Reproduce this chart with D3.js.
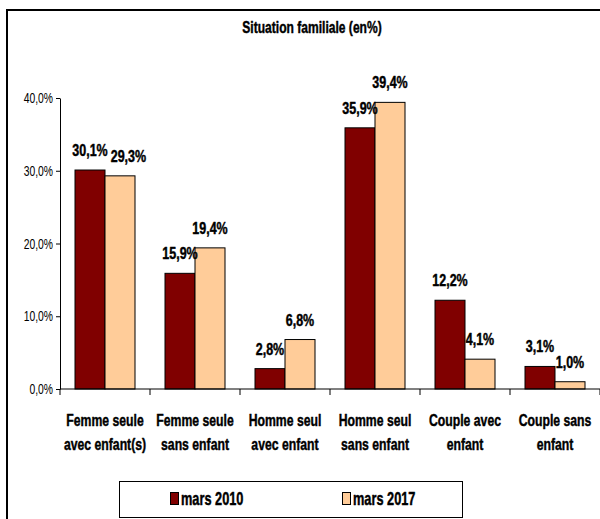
<!DOCTYPE html>
<html>
<head>
<meta charset="utf-8">
<script src="https://cdn.jsdelivr.net/npm/d3@7"></script>
<style>
  html, body { margin: 0; padding: 0; background: #fff; }
  svg { display: block; }
  text { font-family: "Liberation Sans", Arial, sans-serif; fill: #000; }
</style>
</head>
<body>
<div id="chart"></div>
<script>
// Family situation, share of households (%)
const categories = [
  "Femme seule\navec enfant(s)",
  "Femme seule\nsans enfant",
  "Homme seul\navec enfant",
  "Homme seul\nsans enfant",
  "Couple avec\nenfant",
  "Couple sans\nenfant"
];
const seriesNames = ["mars 2010", "mars 2017"];
const values2010 = [30.1, 15.9, 2.8, 35.9, 12.2, 3.1];
const values2017 = [29.3, 19.4, 6.8, 39.4, 4.1, 1.0];
const yTicks = [0, 10, 20, 30, 40];
const colors = ["#800000", "#FFCC99"];
const title = "Situation familiale (en%)";

const W = 600, H = 519;
const fmt = v => v.toFixed(1).replace(".", ",") + "%";

const svg = d3.select("#chart").append("svg")
  .attr("width", W).attr("height", H);

svg.append("rect").attr("width", W).attr("height", H).attr("fill", "#fff");

// chart frame (runs off the right and bottom edges)
svg.append("rect")
  .attr("x", 7).attr("y", 10).attr("width", 700).attr("height", 600)
  .attr("fill", "none").attr("stroke", "#000").attr("stroke-width", 2);

// condensed text helper: Arial-metric font squeezed horizontally
function ntext(sel, x, y, str, size, sx, weight, anchor) {
  const t = sel.append("text")
    .attr("transform", `translate(${x},${y}) scale(${sx},1)`)
    .attr("font-size", size)
    .attr("font-weight", weight)
    .attr("text-anchor", anchor)
    .text(str);
  if (weight === "bold") {
    t.attr("stroke", "#000").attr("stroke-width", 0.45).attr("stroke-linejoin", "round");
  }
  return t;
}

const plot = { left: 60, right: 600, top: 98, bottom: 389 };

const x0 = d3.scaleBand().domain(categories)
  .range([plot.left, plot.right]).paddingInner(0).paddingOuter(0);
const x1 = d3.scaleBand().domain(seriesNames)
  .range([0, x0.bandwidth()]).paddingInner(0).paddingOuter(0.5);
const y = d3.scaleLinear().domain([0, 40]).range([plot.bottom, plot.top]);

// title
ntext(svg, 312, 33, title, 17, 0.71, "bold", "middle");

// y axis
const yAxis = d3.axisLeft(y).tickValues(yTicks).tickSize(4).tickSizeOuter(0)
  .tickFormat(fmt).tickPadding(0);
const gy = svg.append("g").attr("transform", `translate(${plot.left},0)`).call(yAxis);
gy.select(".domain").attr("stroke", "#000");
gy.selectAll(".tick line").attr("stroke", "#000");
gy.selectAll(".tick text").remove();
yTicks.forEach(v => {
  ntext(svg, 53, y(v) + 5, fmt(v), 14, 0.74, "normal", "end");
});

// bars
const rows = categories.map((c, i) => ({ cat: c, vals: [values2010[i], values2017[i]] }));
const groups = svg.append("g").selectAll("g").data(rows).join("g")
  .attr("transform", d => `translate(${x0(d.cat)},0)`);

groups.selectAll("rect")
  .data(d => d.vals.map((v, k) => ({ key: seriesNames[k], v, k })))
  .join("rect")
  .attr("x", d => x1(d.key))
  .attr("y", d => y(d.v))
  .attr("width", x1.bandwidth())
  .attr("height", d => y(0) - y(d.v))
  .attr("fill", d => colors[d.k])
  .attr("stroke", "#000")
  .attr("stroke-width", 1);

// x axis line and category separators
svg.append("line")
  .attr("x1", plot.left).attr("x2", plot.right)
  .attr("y1", plot.bottom).attr("y2", plot.bottom)
  .attr("stroke", "#000");
const sepPositions = categories.map(c => x0(c)).concat([plot.right]);
svg.append("g").selectAll("line").data(sepPositions).join("line")
  .attr("x1", d => d).attr("x2", d => d)
  .attr("y1", plot.bottom).attr("y2", plot.bottom + 6)
  .attr("stroke", "#000");

// category labels
categories.forEach(c => {
  const cx = x0(c) + x0.bandwidth() / 2;
  c.split("\n").forEach((line, li) => {
    ntext(svg, cx, 426 + li * 24, line, 17, 0.72, "bold", "middle");
  });
});

// value labels, nudged sideways when two labels of a group collide
const valSize = 16, valSx = 0.78, charW = 2.835 * valSize * valSx;
rows.forEach(r => {
  const placed = [];
  r.vals.forEach((v, k) => {
    let cx = x0(r.cat) + x1(seriesNames[k]) + x1.bandwidth() / 2;
    const by = y(v) - 14;
    const box = { x0: cx - charW / 2, x1: cx + charW / 2, y0: by - 11, y1: by };
    placed.forEach(p => {
      const ov = p.x1 - box.x0;
      if (ov > 0 && box.y0 < p.y1 && box.y1 > p.y0) {
        cx += ov + 3; box.x0 += ov + 3; box.x1 += ov + 3;
      }
    });
    placed.push(box);
    ntext(svg, cx, by, fmt(v), valSize, valSx, "bold", "middle");
  });
});

// legend
const lg = svg.append("g");
lg.append("rect")
  .attr("x", 119.5).attr("y", 481.5).attr("width", 343).attr("height", 36)
  .attr("fill", "#fff").attr("stroke", "#000").attr("stroke-width", 1);
const legendX = [170, 342];
seriesNames.forEach((s, k) => {
  lg.append("rect")
    .attr("x", legendX[k] + 0.5).attr("y", 492.5).attr("width", 8).attr("height", 12)
    .attr("fill", colors[k]).attr("stroke", "#000").attr("stroke-width", 1);
  ntext(lg, legendX[k] + 11, 505, s, 18, 0.71, "bold", "start");
});
</script>
</body>
</html>
